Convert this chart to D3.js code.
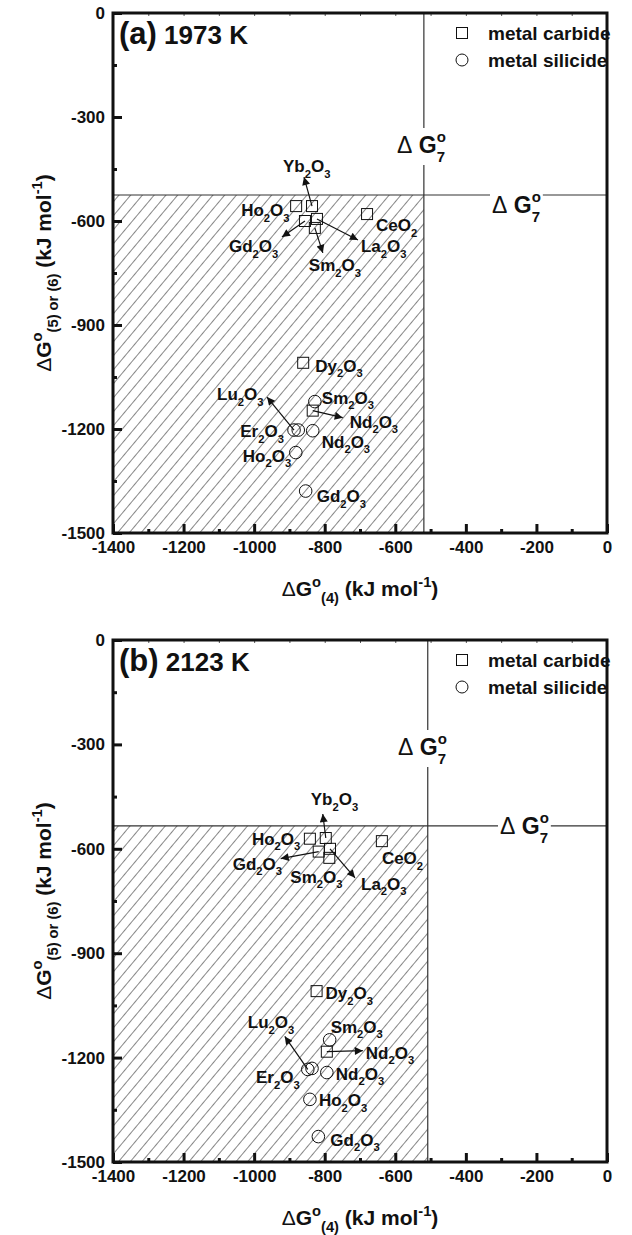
<!DOCTYPE html>
<html><head><meta charset="utf-8">
<script src="https://cdn.jsdelivr.net/npm/d3@7"></script>
<style>
body{margin:0;background:#fff}
text{font-family:"Liberation Sans",Arial,sans-serif;font-weight:bold;fill:#111}
</style>
</head><body><svg id="chart" width="632" height="1235"></svg>
<script>
// ---------- data ----------
const xTicks = [-1400,-1200,-1000,-800,-600,-400,-200,0];
const yTicks = [0,-300,-600,-900,-1200,-1500];
const legendLabels = ["metal carbide","metal silicide"];
const panelTitles = [["(a)","1973 K"],["(b)","2123 K"]];

const carbideNames  = ["Ho2O3","Yb2O3","Gd2O3","La2O3","Sm2O3","CeO2","Dy2O3","Nd2O3"];
const silicideNames = ["Sm2O3","Lu2O3","Er2O3","Nd2O3","Ho2O3","Gd2O3"];

// panel (a) 1973 K
const carbideA_dG4  = [-881,-836,-856,-822,-828,-680,-861,-834];
const carbideA_dG56 = [-557,-557,-600,-594,-620,-580,-1009,-1147];
const silicideA_dG4  = [-828,-887,-875,-834,-882,-854];
const silicideA_dG56 = [-1121,-1203,-1203,-1205,-1268,-1379];
const dG7A = [-519,-525];   // [vertical line (x), horizontal line (y)]

// panel (b) 2123 K
const carbideB_dG4  = [-842,-797,-817,-785,-787,-638,-823,-794];
const carbideB_dG56 = [-571,-569,-608,-600,-626,-578,-1009,-1183];
const silicideB_dG4  = [-786,-848,-836,-794,-842,-818];
const silicideB_dG56 = [-1149,-1234,-1231,-1243,-1320,-1427];
const dG7B = [-508,-534];

// ---------- label layout (pixel offsets from marker) ----------
const layoutA = {
  "c-Ho2O3":{l:[-55,10]}, "c-Yb2O3":{l:[-29,-34],a:[-8,-29]}, "c-Gd2O3":{l:[-76,31],a:[-23,16]},
  "c-La2O3":{l:[44,33],a:[41,21]}, "c-Sm2O3":{l:[-6,43],a:[8,25]}, "c-CeO2":{l:[9,17]},
  "c-Dy2O3":{l:[12,9]}, "c-Nd2O3":{l:[37,17],a:[30,7]},
  "s-Sm2O3":{l:[7,2]}, "s-Lu2O3":{l:[-77,-30],a:[-27,-33]}, "s-Er2O3":{l:[-58,7]},
  "s-Nd2O3":{l:[9,17]}, "s-Ho2O3":{l:[-53,9]}, "s-Gd2O3":{l:[11,11]}
};
const layoutB = {
  "c-Ho2O3":{l:[-58,6]}, "c-Yb2O3":{l:[-15,-33],a:[-3,-24]}, "c-Gd2O3":{l:[-86,18],a:[-38,7]},
  "c-La2O3":{l:[31,41],a:[25,29]}, "c-Sm2O3":{l:[-39,25]}, "c-CeO2":{l:[0,23]},
  "c-Dy2O3":{l:[9,8]}, "c-Nd2O3":{l:[39,7],a:[36,-1]},
  "s-Sm2O3":{l:[1,-7]}, "s-Lu2O3":{l:[-60,-41],a:[-23,-33]}, "s-Er2O3":{l:[-56,15]},
  "s-Nd2O3":{l:[9,7]}, "s-Ho2O3":{l:[9,7]}, "s-Gd2O3":{l:[12,9]}
};

const svg = d3.select("#chart");
const defs = svg.append("defs");
const pat = defs.append("pattern").attr("id","hatch").attr("patternUnits","userSpaceOnUse")
  .attr("width",9).attr("height",9).attr("patternTransform","rotate(40)");
pat.append("line").attr("x1",0).attr("y1",0).attr("x2",0).attr("y2",9)
  .attr("stroke","#222").attr("stroke-width",1.1);
defs.append("marker").attr("id","arrow").attr("markerUnits","userSpaceOnUse")
  .attr("viewBox","0 0 10 10").attr("refX",10).attr("refY",5)
  .attr("markerWidth",11).attr("markerHeight",8).attr("orient","auto")
  .append("path").attr("d","M0,0L10,5L0,10Z").attr("fill","#111");

// rich text helper
function rich(sel, parts, base, sc){
  sc = sc || 0.66;
  let shift = 0;
  parts.forEach(p=>{
    const target = p.sup ? -base*0.42 : p.sub ? base*0.33 : 0;
    const t = sel.append("tspan").text(p.t).attr("dy", target-shift)
      .style("font-size", (p.sup||p.sub) ? (base*sc)+"px" : base+"px");
    if (p.w) t.style("font-weight", p.w);
    shift = target;
  });
}
function formula(sel, str, base){
  const parts = [];
  str.match(/[A-Za-z]+|\d+/g).forEach(s=>{
    parts.push(/\d/.test(s) ? {t:s, sub:true} : {t:s});
  });
  rich(sel, parts, base);
}

function panel(cfg){
  const x = d3.scaleLinear().domain([-1400,0]).range([113,607]);
  const y = d3.scaleLinear().domain([0,-1500]).range([cfg.top,cfg.bottom]);
  const g = svg.append("g");

  // hatched region
  g.append("rect").attr("x",x(-1400)).attr("y",y(cfg.dG7[1]))
    .attr("width",x(cfg.dG7[0])-x(-1400)).attr("height",y(-1500)-y(cfg.dG7[1]))
    .attr("fill","url(#hatch)");
  // dG7 lines
  g.append("line").attr("x1",x(cfg.dG7[0])).attr("x2",x(cfg.dG7[0]))
    .attr("y1",y(0)).attr("y2",y(-1500)).attr("stroke","#333").attr("stroke-width",1.2);
  g.append("line").attr("x1",x(-1400)).attr("x2",x(0))
    .attr("y1",y(cfg.dG7[1])).attr("y2",y(cfg.dG7[1])).attr("stroke","#333").attr("stroke-width",1.2);

  // axes
  const fmt = d=>String(d);
  const xa = g.append("g").attr("transform",`translate(0,${y(-1500)})`)
    .call(d3.axisBottom(x).tickValues(xTicks).tickSizeInner(-9).tickSizeOuter(0).tickPadding(8).tickFormat(fmt));
  const xm = g.append("g").attr("transform",`translate(0,${y(-1500)})`)
    .call(d3.axisBottom(x).tickValues(d3.range(-1300,0,200)).tickSizeInner(-4).tickSizeOuter(0).tickFormat(""));
  const xt = g.append("g").attr("transform",`translate(0,${y(0)})`)
    .call(d3.axisTop(x).tickValues(d3.range(-1300,0,100)).tickSizeInner(-3).tickSizeOuter(0).tickFormat(""));
  const ya = g.append("g").attr("transform",`translate(${x(-1400)},0)`)
    .call(d3.axisLeft(y).tickValues(yTicks).tickSizeInner(-9).tickSizeOuter(0).tickPadding(8).tickFormat(fmt));
  const ym = g.append("g").attr("transform",`translate(${x(-1400)},0)`)
    .call(d3.axisLeft(y).tickValues(d3.range(-150,-1500,-300)).tickSizeInner(-4).tickSizeOuter(0).tickFormat(""));
  [xa,xm,ya,ym].forEach(a=>{a.select(".domain").remove(); a.selectAll("line").attr("stroke","#111").attr("stroke-width",3);});
  xt.select(".domain").remove(); xt.selectAll("line").attr("stroke","#555").attr("stroke-width",1);
  [xa,ya].forEach(a=>a.selectAll("text").style("font-size","17px").style("font-family","'Liberation Sans',Arial,sans-serif").style("font-weight","bold").attr("fill","#111"));

  // frame
  g.append("rect").attr("x",x(-1400)).attr("y",y(0)).attr("width",x(0)-x(-1400))
    .attr("height",y(-1500)-y(0)).attr("fill","none").attr("stroke","#111").attr("stroke-width",3);

  // dG7 labels (with white background)
  function dg7(px,py){
    const t = g.append("text").attr("x",px).attr("y",py);
    t.append("tspan").text("\u0394").style("font-weight","normal").style("font-size","23px");
    t.append("tspan").text(" G").style("font-size","23px");
    const o = t.append("tspan").text("o").attr("dy",-11).style("font-size","15px");
    const w = o.node().getComputedTextLength();
    t.append("tspan").text("7").attr("dx",-w).attr("dy",20).style("font-size","15px");
    const bb = t.node().getBBox();
    g.insert("rect", function(){return t.node();}).attr("x",bb.x-2).attr("y",bb.y).attr("width",bb.width+4)
      .attr("height",bb.height).attr("fill","#fff");
  }
  dg7(cfg.lab1[0],cfg.lab1[1]);
  dg7(cfg.lab2[0],cfg.lab2[1]);

  // panel title
  const pt = g.append("text").attr("x",x(-1400)+6).attr("y",y(0)+31);
  pt.append("tspan").text(cfg.title[0]).style("font-size","31px");
  pt.append("tspan").text(" "+cfg.title[1]).style("font-size","26px");

  // legend
  const lx = 462, ly = y(0)+20;
  g.append("rect").attr("x",lx-5.5).attr("y",ly-5.5).attr("width",11).attr("height",11)
    .attr("fill","none").attr("stroke","#111").attr("stroke-width",1);
  g.append("circle").attr("cx",lx).attr("cy",ly+27).attr("r",6)
    .attr("fill","none").attr("stroke","#111").attr("stroke-width",1);
  legendLabels.forEach((s,i)=>g.append("text").attr("x",lx+26).attr("y",ly+7+27*i).style("font-size","19px").text(s));

  // points
  function series(names, xs, ys, kind){
    names.forEach((n,i)=>{
      const px = x(xs[i]), py = y(ys[i]);
      const lay = cfg.layout[kind+"-"+n];
      if (lay.a) g.append("line").attr("x1",px).attr("y1",py).attr("x2",px+lay.a[0]).attr("y2",py+lay.a[1])
        .attr("stroke","#111").attr("stroke-width",1.2).attr("marker-end","url(#arrow)");
      if (kind==="c") g.append("rect").attr("x",px-5.5).attr("y",py-5.5).attr("width",11).attr("height",11)
        .attr("fill","none").attr("stroke","#111").attr("stroke-width",1);
      else g.append("circle").attr("cx",px).attr("cy",py).attr("r",6.3)
        .attr("fill","none").attr("stroke","#111").attr("stroke-width",1);
      const t = g.append("text").attr("x",px+lay.l[0]).attr("y",py+lay.l[1]);
      formula(t, n, 17);
    });
  }
  series(carbideNames, cfg.cx, cfg.cy, "c");
  series(silicideNames, cfg.sx, cfg.sy, "s");

  // axis titles
  const xtl = g.append("text").attr("x",x(-700)).attr("y",cfg.bottom+63).attr("text-anchor","middle");
  rich(xtl,[{t:"\u0394",w:"normal"},{t:"G"},{t:"o",sup:true},{t:"(4)",sub:true},{t:" (kJ mol"},{t:"-1",sup:true},{t:")"}],21,0.7);
  const ytl = g.append("text").attr("transform",`translate(51,${(cfg.top+cfg.bottom)/2}) rotate(-90)`).attr("text-anchor","middle");
  rich(ytl,[{t:"\u0394",w:"normal"},{t:"G"},{t:"o",sup:true},{t:"(5) or (6)",sub:true},{t:" (kJ mol"},{t:"-1",sup:true},{t:")"}],21,0.7);
}

panel({top:13,bottom:533,title:panelTitles[0],dG7:dG7A,layout:layoutA,
  cx:carbideA_dG4,cy:carbideA_dG56,sx:silicideA_dG4,sy:silicideA_dG56,
  lab1:[397,153],lab2:[492,213]});
panel({top:640,bottom:1162,title:panelTitles[1],dG7:dG7B,layout:layoutB,
  cx:carbideB_dG4,cy:carbideB_dG56,sx:silicideB_dG4,sy:silicideB_dG56,
  lab1:[398,755],lab2:[500,834]});
</script></body></html>
